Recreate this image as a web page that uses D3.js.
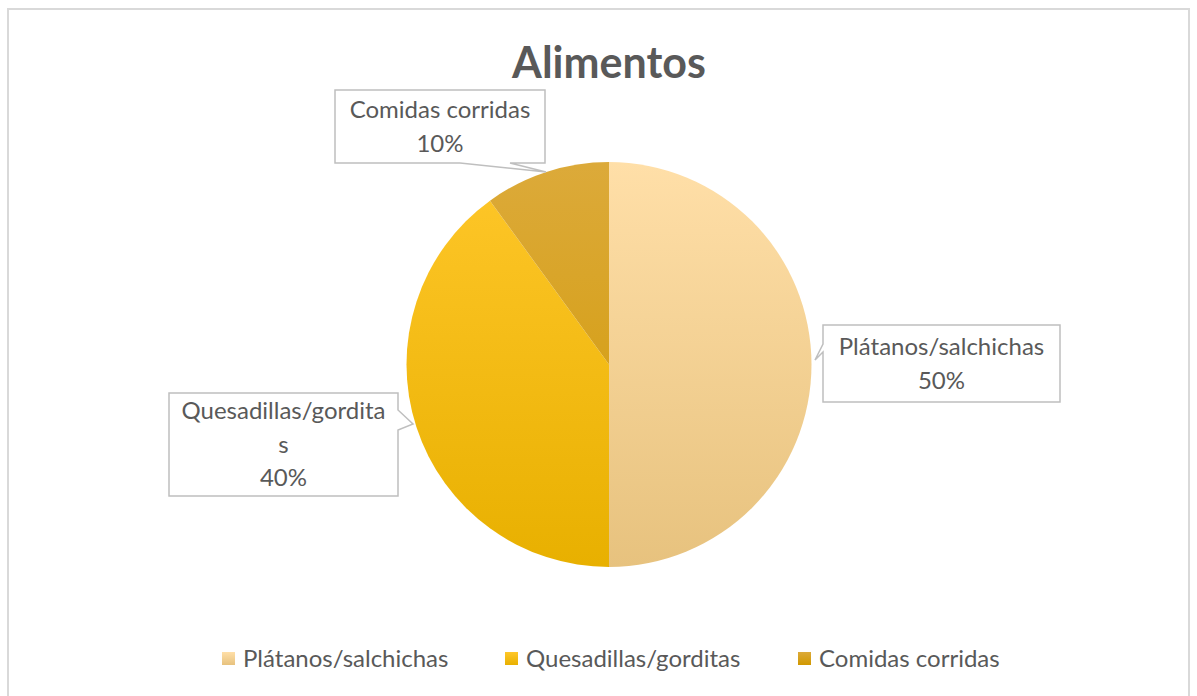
<!DOCTYPE html>
<html>
<head>
<meta charset="utf-8">
<script src="https://cdnjs.cloudflare.com/ajax/libs/d3/7.8.5/d3.min.js"></script>
<style>
  body { margin: 0; background: #fff; }
  text { font-family: Lato, "Open Sans", sans-serif; fill: #595959; }
</style>
</head>
<body>
<div id="root"></div>
<script>
let categories = ['Plátanos/salchichas', 'Quesadillas/gorditas', 'Comidas corridas'];
let values = [50, 40, 10];
let labelLines = [
    ['Plátanos/salchichas', '50%'],
    ['Quesadillas/gordita', 's', '40%'],
    ['Comidas corridas', '10%']
];
let topColors = ['#ffdfa8', '#ffc72a', '#dcaa3a'];
let bottomColors = ['#e7c27e', '#e8b000', '#d19800'];

// callout boxes: x, y, w, h and pointer notch
let callouts = [
    {x: 823, y: 325, w: 237, h: 77, side: 'left', a: 344, b: 352, tip: [815, 360]},
    {x: 169, y: 393, w: 229, h: 103, side: 'right', a: 410, b: 430, tip: [413, 424]},
    {x: 335, y: 90, w: 210, h: 73, side: 'bottom', a: 460, b: 510, tip: [546, 172]}
];

let width = 1197, height = 696;
let cx = 609, cy = 364.5, radius = 202.5;

function render() {
    let svg = d3.select('#root').append('svg')
        .attr('width', width)
        .attr('height', height);

    // outer chart frame
    svg.append('rect')
        .attr('x', 8).attr('y', 9)
        .attr('width', 1181).attr('height', 700)
        .attr('fill', '#fff')
        .attr('stroke', '#d9d9d9')
        .attr('stroke-width', 2);

    let defs = svg.append('defs');
    categories.forEach((c, i) => {
        let g = defs.append('linearGradient')
            .attr('id', 'grad' + i)
            .attr('gradientUnits', 'userSpaceOnUse')
            .attr('x1', 0).attr('y1', cy - radius)
            .attr('x2', 0).attr('y2', cy + radius);
        g.append('stop').attr('offset', 0).attr('stop-color', topColors[i]);
        g.append('stop').attr('offset', 1).attr('stop-color', bottomColors[i]);
        let lg = defs.append('linearGradient')
            .attr('id', 'lgrad' + i)
            .attr('x1', 0).attr('y1', 0).attr('x2', 0).attr('y2', 1);
        lg.append('stop').attr('offset', 0).attr('stop-color', topColors[i]);
        lg.append('stop').attr('offset', 1).attr('stop-color', bottomColors[i]);
    });

    svg.append('text')
        .attr('x', 609).attr('y', 78)
        .attr('text-anchor', 'middle')
        .attr('font-size', 43)
        .attr('font-weight', 'bold')
        .text('Alimentos');

    let pie = d3.pie().sort(null).value(d => d);

    // gradients use absolute coordinates, so slices are drawn in page space
    svg.append('g')
        .selectAll('path')
        .data(pie(values))
        .join('path')
        .attr('d', d => {
            let p = d3.path();
            let a0 = d.startAngle - Math.PI / 2, a1 = d.endAngle - Math.PI / 2;
            p.moveTo(cx, cy);
            p.lineTo(cx + radius * Math.cos(a0), cy + radius * Math.sin(a0));
            p.arc(cx, cy, radius, a0, a1);
            p.closePath();
            return p.toString();
        })
        .attr('fill', (d, i) => `url(#grad${i})`);

    // callouts
    let cg = svg.append('g');
    callouts.forEach((c, i) => {
        let p = d3.path();
        let r = c.x + c.w, btm = c.y + c.h;
        p.moveTo(c.x, c.y);
        p.lineTo(r, c.y);
        if (c.side === 'right') {
            p.lineTo(r, c.a); p.lineTo(c.tip[0], c.tip[1]); p.lineTo(r, c.b);
        }
        p.lineTo(r, btm);
        if (c.side === 'bottom') {
            p.lineTo(c.b, btm); p.lineTo(c.tip[0], c.tip[1]); p.lineTo(c.a, btm);
        }
        p.lineTo(c.x, btm);
        if (c.side === 'left') {
            p.lineTo(c.x, c.b); p.lineTo(c.tip[0], c.tip[1]); p.lineTo(c.x, c.a);
        }
        p.closePath();
        cg.append('path')
            .attr('d', p.toString())
            .attr('fill', '#fff')
            .attr('stroke', '#bfbfbf')
            .attr('stroke-width', 1.5);

        let lines = labelLines[i];
        let lh = 33.5;
        let y0 = c.y + c.h / 2 - (lines.length - 1) * lh / 2;
        cg.selectAll(null)
            .data(lines)
            .enter()
            .append('text')
            .attr('x', c.x + c.w / 2)
            .attr('y', (d, j) => y0 + j * lh)
            .attr('dy', '0.35em')
            .attr('text-anchor', 'middle')
            .attr('font-size', 24)
            .text(d => d);
    });

    // legend
    let legendX = [222, 505, 798];
    let lg = svg.append('g');
    categories.forEach((c, i) => {
        lg.append('rect')
            .attr('x', legendX[i]).attr('y', 652)
            .attr('width', 13).attr('height', 13)
            .attr('fill', `url(#lgrad${i})`);
        lg.append('text')
            .attr('x', legendX[i] + 21).attr('y', 659)
            .attr('dy', '0.35em')
            .attr('font-size', 24)
            .text(c);
    });
}

render();
</script>
</body>
</html>
